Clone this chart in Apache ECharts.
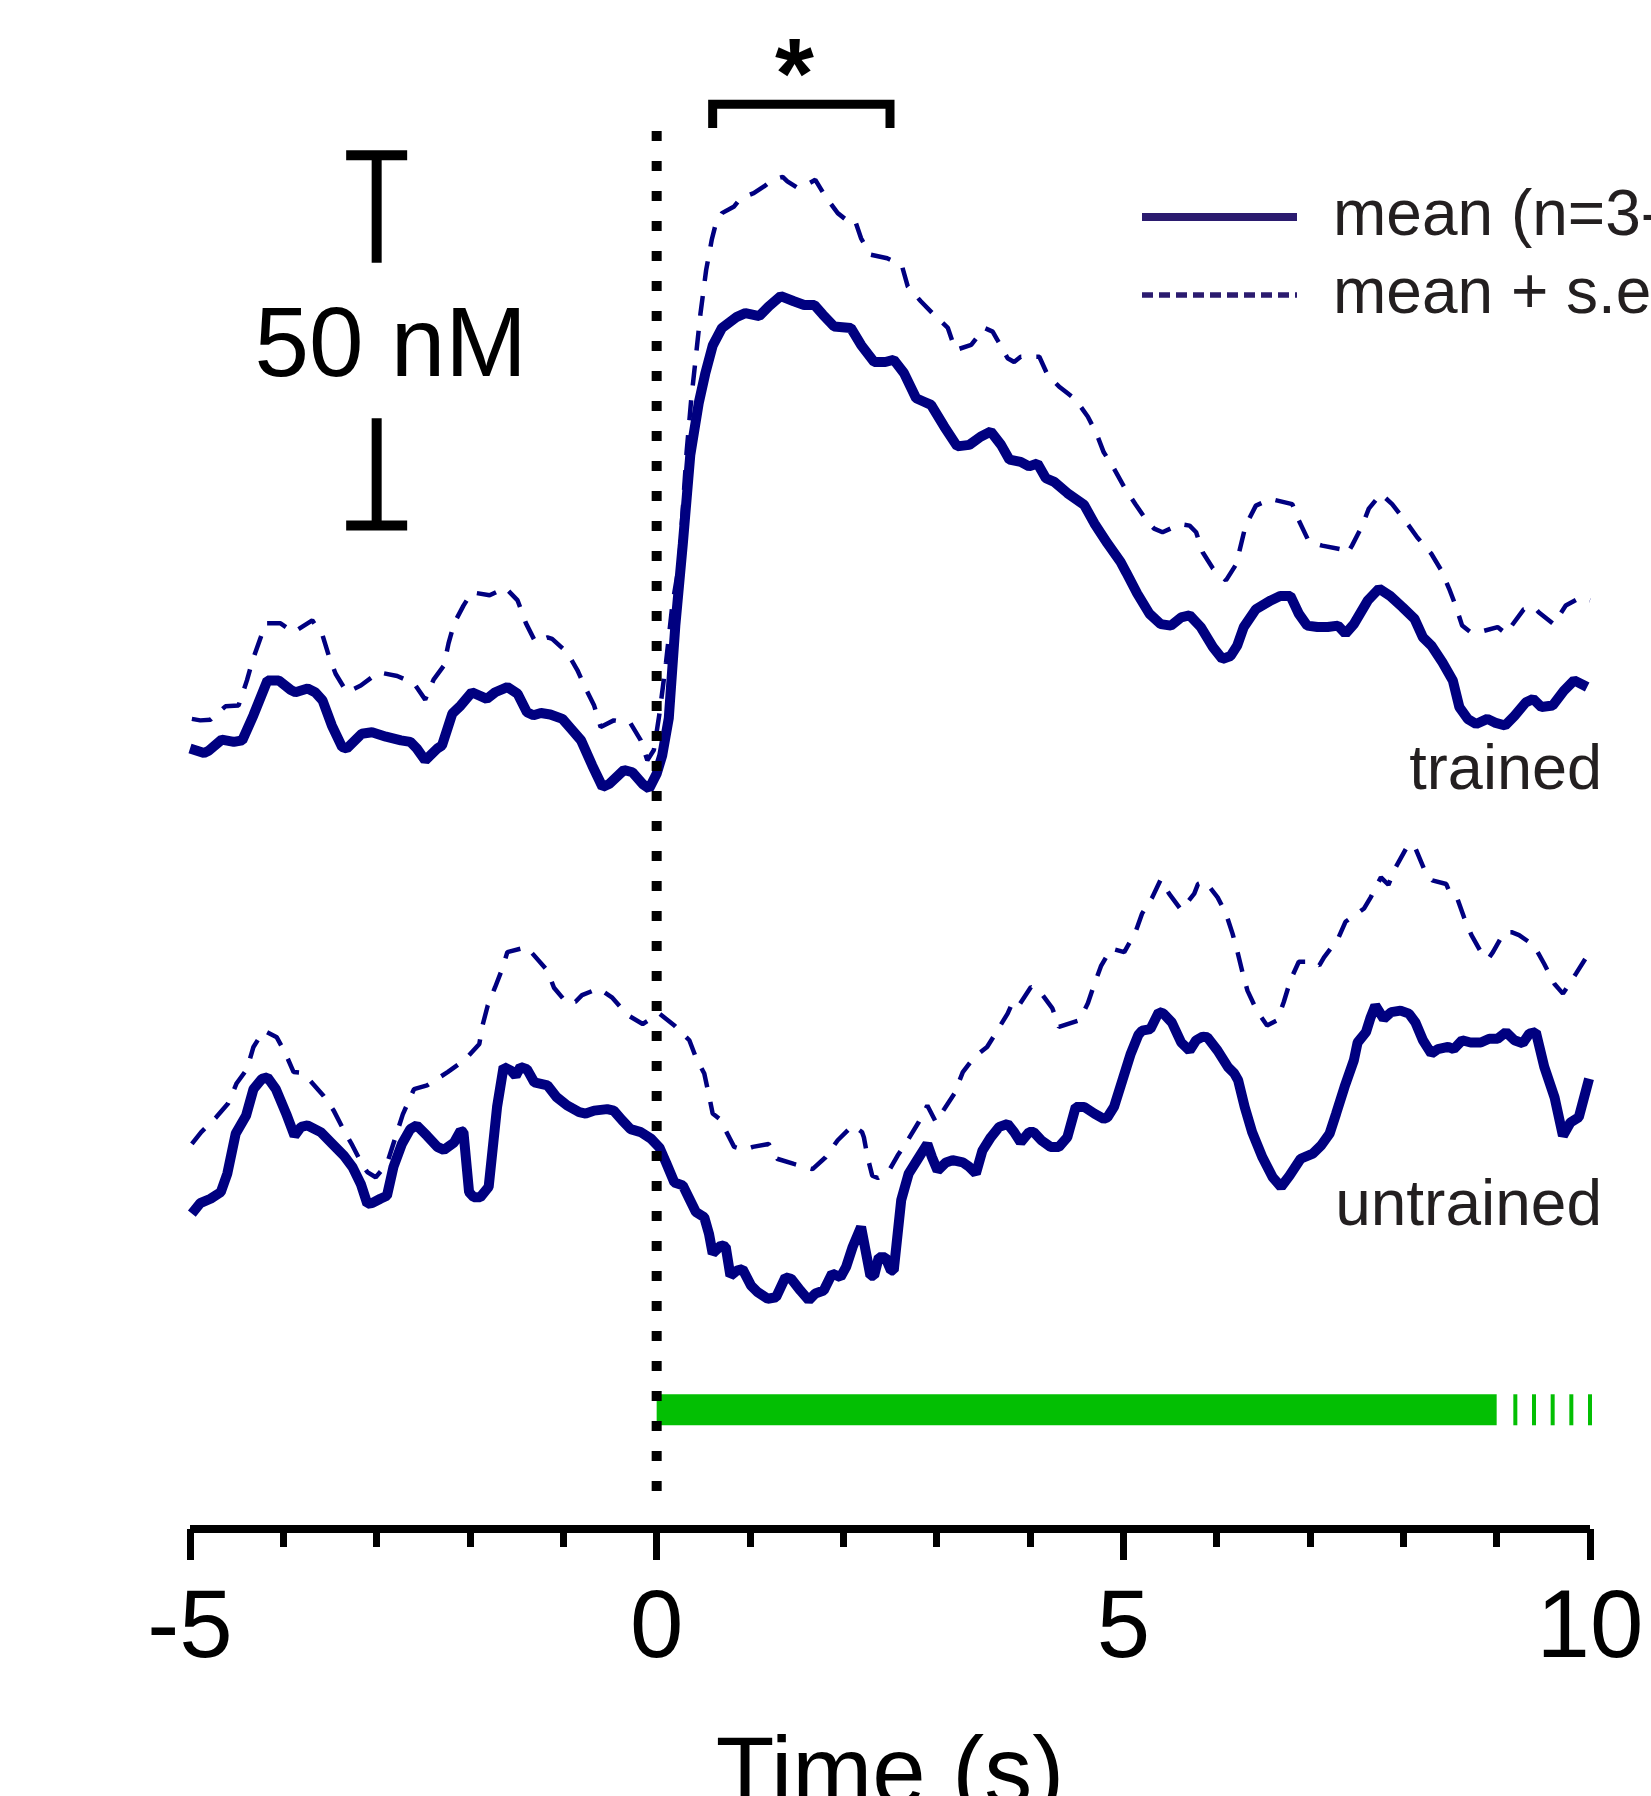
<!DOCTYPE html>
<html>
<head>
<meta charset="utf-8">
<title>Cue-evoked dopamine: trained vs untrained</title>
<script src="https://cdn.jsdelivr.net/npm/echarts@6/dist/echarts.min.js"></script>
<style>
  html, body { margin: 0; padding: 0; background: #ffffff; overflow: hidden; }
  #chart { width: 1651px; height: 1796px; }
</style>
</head>
<body>
<div id="chart"></div>
<script>
// Averaged [DA] traces, [time (s) from cue onset, nM on a stacked display scale]
const trainedMean = [
  [-5.00,105.4],[-4.85,104.8],[-4.80,105.1],[-4.66,106.6],[-4.53,106.3],[-4.44,106.5],[-4.32,109.9],[-4.17,114.6],
  [-4.05,114.6],[-3.92,113.3],[-3.87,113.0],[-3.74,113.5],[-3.66,113.0],[-3.58,111.9],[-3.48,108.5],[-3.37,105.6],
  [-3.32,105.4],[-3.16,107.4],[-3.05,107.6],[-2.90,107.0],[-2.74,106.5],[-2.64,106.3],[-2.57,105.4],[-2.48,103.8],
  [-2.35,105.4],[-2.30,105.8],[-2.19,110.1],[-2.10,111.2],[-1.98,113.0],[-1.82,112.1],[-1.73,113.0],[-1.60,113.7],
  [-1.49,112.8],[-1.39,110.3],[-1.32,109.9],[-1.24,110.2],[-1.14,110.0],[-1.01,109.4],[-0.92,108.1],[-0.81,106.5],
  [-0.69,103.1],[-0.58,100.2],[-0.51,100.6],[-0.35,102.5],[-0.26,102.2],[-0.15,100.6],[-0.08,100.0],[0.00,102.0],
  [0.06,104.5],[0.13,109.5],[0.20,122.0],[0.28,133.0],[0.36,145.0],[0.45,152.0],[0.52,156.0],[0.60,159.8],
  [0.70,162.2],[0.86,163.7],[0.95,164.2],[1.10,163.8],[1.20,165.1],[1.33,166.5],[1.47,165.8],[1.58,165.3],
  [1.69,165.3],[1.78,164.0],[1.90,162.4],[2.08,162.2],[2.19,159.9],[2.33,157.6],[2.45,157.6],[2.54,157.9],
  [2.65,156.1],[2.78,152.7],[2.87,152.2],[2.94,151.8],[3.08,148.9],[3.22,146.2],[3.35,146.4],[3.47,147.5],
  [3.58,148.2],[3.69,146.4],[3.78,144.4],[3.90,144.1],[3.99,143.5],[4.08,143.9],[4.17,141.9],[4.26,141.4],
  [4.40,139.9],[4.58,138.3],[4.69,135.8],[4.83,133.1],[4.97,130.6],[5.03,129.2],[5.15,126.3],[5.28,123.6],
  [5.40,122.2],[5.51,122.0],[5.62,123.1],[5.71,123.4],[5.83,121.8],[5.96,119.1],[6.06,117.5],[6.15,117.9],
  [6.22,119.3],[6.29,121.8],[6.42,124.2],[6.58,125.4],[6.68,126.0],[6.79,126.0],[6.88,123.6],[6.97,122.0],
  [7.08,121.8],[7.19,121.8],[7.30,122.0],[7.38,120.9],[7.47,122.2],[7.62,125.4],[7.74,127.0],[7.86,126.0],
  [7.99,124.5],[8.12,122.9],[8.21,120.4],[8.30,119.3],[8.42,117.0],[8.53,114.6],[8.60,111.0],[8.69,109.4],
  [8.78,108.7],[8.90,109.4],[8.98,108.9],[9.09,108.5],[9.19,109.8],[9.31,111.6],[9.39,112.1],[9.48,111.0],
  [9.60,111.2],[9.72,113.2],[9.83,114.6],[9.97,113.7]
];

const trainedMeanPlusSem = [
  [-4.98,109.4],[-4.89,109.2],[-4.78,109.3],[-4.62,111.1],[-4.48,111.2],[-4.39,114.6],[-4.33,117.3],[-4.24,120.5],
  [-4.19,122.3],[-4.03,122.3],[-3.89,121.1],[-3.69,122.7],[-3.58,120.7],[-3.51,117.8],[-3.44,115.5],[-3.32,113.0],
  [-3.17,113.9],[-2.98,115.7],[-2.78,115.2],[-2.60,114.2],[-2.48,112.0],[-2.39,114.7],[-2.28,116.6],[-2.23,119.6],
  [-2.17,122.3],[-2.07,124.7],[-1.98,126.5],[-1.79,126.1],[-1.62,127.1],[-1.49,125.4],[-1.40,122.3],[-1.30,119.8],
  [-1.17,120.4],[-1.12,120.2],[-0.96,118.4],[-0.85,116.0],[-0.76,113.5],[-0.67,111.2],[-0.60,108.3],[-0.46,109.2],
  [-0.28,108.8],[-0.17,106.5],[-0.10,103.8],[-0.03,105.2],[0.03,110.1],[0.10,117.0],[0.17,125.0],[0.24,130.2],
  [0.32,145.3],[0.37,152.5],[0.42,158.3],[0.47,164.2],[0.53,170.0],[0.59,174.1],[0.63,176.1],[0.70,177.7],
  [0.83,178.6],[0.90,179.7],[1.04,180.4],[1.15,181.3],[1.24,182.2],[1.35,182.6],[1.40,182.0],[1.51,181.1],
  [1.60,181.5],[1.70,182.2],[1.81,179.9],[1.94,177.7],[2.03,176.8],[2.12,176.9],[2.19,174.3],[2.29,172.1],
  [2.47,171.6],[2.54,171.2],[2.63,170.5],[2.69,167.8],[2.83,165.8],[2.97,164.0],[3.12,162.2],[3.20,159.2],
  [3.37,159.9],[3.51,162.2],[3.60,161.7],[3.65,160.6],[3.76,158.1],[3.83,157.6],[3.90,158.3],[4.10,158.3],
  [4.19,155.8],[4.31,154.3],[4.40,153.4],[4.49,152.5],[4.62,150.2],[4.71,148.0],[4.79,145.4],[4.90,143.2],
  [5.01,140.7],[5.13,138.4],[5.26,136.0],[5.33,135.1],[5.42,134.6],[5.61,135.7],[5.71,135.5],[5.78,134.6],
  [5.85,131.9],[5.96,129.7],[6.10,128.1],[6.21,130.3],[6.31,135.5],[6.42,138.2],[6.58,139.1],[6.81,138.4],
  [6.88,136.2],[6.99,133.3],[7.13,132.8],[7.33,132.3],[7.40,131.7],[7.45,132.8],[7.56,135.5],[7.63,137.8],
  [7.76,139.8],[7.88,138.4],[8.03,136.0],[8.15,133.9],[8.30,131.7],[8.40,129.6],[8.49,127.0],[8.56,124.7],
  [8.63,122.0],[8.72,121.1],[8.81,121.1],[9.01,121.8],[9.10,120.9],[9.15,121.8],[9.29,124.2],[9.40,124.5],
  [9.45,123.8],[9.61,122.2],[9.74,124.7],[9.90,125.8],[10.00,125.4]
];

const untrainedMean = [
  [-4.98,42.6],[-4.89,44.0],[-4.78,44.6],[-4.67,45.5],[-4.60,48.0],[-4.51,53.4],[-4.40,55.8],[-4.32,59.4],
  [-4.23,60.8],[-4.17,61.0],[-4.08,59.4],[-3.97,56.1],[-3.88,53.1],[-3.81,54.3],[-3.74,54.5],[-3.60,53.6],
  [-3.49,52.2],[-3.35,50.4],[-3.26,48.9],[-3.17,46.6],[-3.10,43.9],[-3.05,44.0],[-2.96,44.6],[-2.89,45.0],
  [-2.82,48.9],[-2.73,52.0],[-2.64,54.0],[-2.57,54.5],[-2.46,53.1],[-2.35,51.6],[-2.28,51.2],[-2.17,52.2],
  [-2.10,53.8],[-2.07,53.6],[-2.01,45.5],[-1.96,44.8],[-1.89,44.8],[-1.80,46.2],[-1.71,57.0],[-1.64,62.4],
  [-1.56,61.9],[-1.51,61.2],[-1.46,62.4],[-1.39,62.1],[-1.31,60.3],[-1.24,60.1],[-1.17,59.9],[-1.07,58.3],
  [-0.96,57.2],[-0.83,56.3],[-0.76,56.1],[-0.67,56.5],[-0.53,56.7],[-0.46,56.5],[-0.37,55.2],[-0.28,54.0],
  [-0.17,53.6],[-0.06,52.7],[0.03,51.5],[0.10,49.5],[0.19,46.8],[0.28,46.4],[0.35,44.6],[0.42,42.8],
  [0.51,42.1],[0.56,39.9],[0.60,37.2],[0.69,38.3],[0.74,38.1],[0.79,34.2],[0.86,34.9],[0.92,35.1],
  [1.01,32.9],[1.08,32.0],[1.19,31.1],[1.28,31.3],[1.38,34.0],[1.44,33.8],[1.54,32.2],[1.63,30.9],
  [1.70,31.8],[1.79,32.2],[1.88,34.5],[1.97,34.0],[2.03,35.4],[2.10,38.1],[2.19,40.8],[2.29,34.2],
  [2.33,34.2],[2.38,36.7],[2.45,36.7],[2.51,34.9],[2.54,34.9],[2.62,44.4],[2.70,48.0],[2.79,49.8],
  [2.90,52.0],[2.95,50.2],[3.01,48.4],[3.10,49.5],[3.17,49.8],[3.28,49.5],[3.35,48.9],[3.42,48.0],
  [3.49,51.1],[3.58,52.9],[3.67,54.3],[3.76,54.7],[3.83,53.6],[3.90,52.2],[3.99,53.6],[4.04,53.6],
  [4.12,52.5],[4.22,51.6],[4.31,51.6],[4.40,52.9],[4.49,57.0],[4.58,57.0],[4.69,56.1],[4.79,55.4],
  [4.83,55.6],[4.90,57.0],[4.99,60.6],[5.08,64.2],[5.16,66.7],[5.20,67.3],[5.29,67.5],[5.38,69.8],
  [5.43,69.6],[5.52,68.4],[5.62,65.7],[5.71,64.6],[5.78,66.0],[5.85,66.5],[5.90,66.4],[6.01,64.6],
  [6.12,62.4],[6.19,61.5],[6.23,60.6],[6.30,57.0],[6.38,53.6],[6.49,50.2],[6.60,47.5],[6.69,46.2],
  [6.78,47.7],[6.90,50.0],[7.03,50.7],[7.12,51.8],[7.21,53.4],[7.28,56.1],[7.37,59.7],[7.47,63.3],
  [7.51,65.7],[7.60,67.1],[7.65,69.1],[7.70,70.7],[7.79,68.9],[7.87,69.8],[7.97,70.0],[8.06,69.6],
  [8.13,68.4],[8.21,66.0],[8.30,64.2],[8.37,64.8],[8.48,65.1],[8.54,64.8],[8.63,66.0],[8.72,65.7],
  [8.83,65.7],[8.92,66.2],[9.01,66.2],[9.10,67.1],[9.19,66.0],[9.28,65.6],[9.35,66.9],[9.42,67.1],
  [9.51,62.4],[9.62,58.3],[9.71,53.1],[9.79,54.9],[9.88,55.6],[9.99,60.8]
];

const untrainedMeanPlusSem = [
  [-4.98,52.0],[-4.88,53.6],[-4.72,55.6],[-4.59,57.5],[-4.50,60.2],[-4.39,62.1],[-4.32,65.1],[-4.21,67.3],
  [-4.07,66.4],[-3.98,64.3],[-3.89,61.7],[-3.80,61.6],[-3.73,60.8],[-3.57,58.5],[-3.46,56.5],[-3.35,53.8],
  [-3.26,51.8],[-3.15,49.1],[-3.10,48.2],[-3.01,47.5],[-2.89,49.3],[-2.72,56.0],[-2.60,59.4],[-2.46,59.9],
  [-2.24,61.7],[-2.06,63.3],[-1.90,65.5],[-1.87,67.8],[-1.81,70.7],[-1.73,73.2],[-1.65,75.8],[-1.60,77.9],
  [-1.39,78.6],[-1.33,77.7],[-1.17,75.4],[-1.10,73.1],[-0.96,71.0],[-0.87,71.2],[-0.80,72.1],[-0.62,73.0],
  [-0.48,71.8],[-0.31,69.4],[-0.15,68.2],[0.03,69.6],[0.19,68.0],[0.35,66.0],[0.42,63.7],[0.51,61.5],
  [0.56,58.6],[0.60,56.1],[0.69,55.2],[0.72,54.3],[0.83,51.6],[0.94,51.2],[1.03,51.6],[1.20,52.0],
  [1.29,50.0],[1.47,49.3],[1.67,48.6],[1.81,50.2],[1.94,52.5],[2.10,54.5],[2.20,53.6],[2.22,52.9],
  [2.26,50.2],[2.31,47.7],[2.37,47.4],[2.49,48.4],[2.58,50.4],[2.70,52.7],[2.81,55.0],[2.90,57.2],
  [2.99,55.0],[3.08,56.7],[3.19,58.8],[3.28,61.7],[3.40,63.7],[3.54,65.1],[3.62,66.7],[3.76,69.6],
  [3.81,71.0],[3.87,70.5],[4.01,73.2],[4.10,72.7],[4.24,70.3],[4.31,67.8],[4.53,68.7],[4.62,71.0],
  [4.69,73.6],[4.76,76.0],[4.87,78.4],[5.01,77.9],[5.13,80.6],[5.20,83.1],[5.31,85.3],[5.40,87.7],
  [5.49,85.8],[5.62,83.6],[5.76,85.8],[5.80,87.1],[5.88,87.4],[6.01,85.3],[6.10,83.1],[6.17,80.4],
  [6.22,78.1],[6.28,75.0],[6.33,72.7],[6.43,70.0],[6.54,68.0],[6.65,68.7],[6.72,71.2],[6.79,74.1],
  [6.88,76.6],[7.04,76.6],[7.10,76.1],[7.15,77.2],[7.30,79.7],[7.38,82.0],[7.58,83.8],[7.65,85.3],
  [7.76,88.0],[7.84,87.0],[7.92,89.4],[8.03,91.9],[8.10,92.5],[8.13,91.9],[8.22,89.2],[8.31,87.6],
  [8.46,87.1],[8.51,85.6],[8.58,85.1],[8.65,82.6],[8.73,80.2],[8.85,77.5],[8.91,77.0],[8.96,77.9],
  [9.08,80.6],[9.16,80.6],[9.24,80.2],[9.40,78.8],[9.51,76.3],[9.62,73.6],[9.71,72.3],[9.85,75.0],
  [9.96,77.2]
];

// Time axis ticks (s)
const timeTicks = [-5, 0, 5, 10];

// Cue light: continuous from onset to 9 s, then pulsed
const cueOn = [0, 9];
const cuePulses = [9.2, 9.4, 9.6, 9.8, 10];

// Window where trained > untrained (p < 0.05)
const sigWindow = [0.6, 2.5];

// Calibration bar
const scaleBarNM = 50;

const FONT = '"Liberation Sans", Arial, Helvetica, sans-serif';
const NAVY = '#000080';
const INK = '#231f20';
const GREEN = '#03bf03';
const MEAN_NAME = 'mean (n=3-4)';
const SEM_NAME = 'mean + s.e.m.';

// display placement of the annotations (nM on the stacked scale)
const SCALE_BAR_X = -3;
const SCALE_BAR_BOTTOM = 135.5;
const CUE_Y = 16.1;
const ONSET_TOP = 188.8;
const ONSET_BOTTOM = 5.0;
const BRACKET_Y = 192.4;
const BRACKET_LEG = 3.2;

const chart = echarts.init(document.getElementById('chart'), null, { renderer: 'canvas' });

function traceSeries(name, data, dashed) {
  return {
    type: 'line',
    name: name,
    data: data,
    symbol: 'none',
    z: 4,
    itemStyle: { color: NAVY },
    lineStyle: dashed
      ? { color: NAVY, width: 4.5, type: [20, 15], cap: 'butt' }
      : { color: NAVY, width: 10, cap: 'butt', join: 'bevel' },
    emphasis: { disabled: true },
    silent: true
  };
}

const hiddenMarker = { color: 'rgba(0,0,0,0)', borderColor: 'rgba(0,0,0,0)', borderWidth: 0, opacity: 0 };

const option = {
  animation: false,
  backgroundColor: '#ffffff',
  textStyle: { fontFamily: FONT },
  grid: { left: 190, right: 61, top: 48, bottom: 267, containLabel: false, outerBoundsMode: 'none' },
  xAxis: {
    type: 'value',
    min: timeTicks[0],
    max: timeTicks[timeTicks.length - 1],
    interval: 5,
    name: 'Time (s)',
    nameLocation: 'middle',
    nameGap: 201,
    nameTextStyle: { fontSize: 96, color: '#000', fontFamily: FONT },
    axisLine: { onZero: false, lineStyle: { color: '#000', width: 8, cap: 'butt' } },
    axisTick: { length: 31, lineStyle: { color: '#000', width: 7 } },
    minorTick: { show: true, splitNumber: 5, length: 18, lineStyle: { color: '#000', width: 7 } },
    axisLabel: { fontSize: 96, color: '#000', margin: 54, fontFamily: FONT },
    splitLine: { show: false },
    minorSplitLine: { show: false }
  },
  yAxis: { type: 'value', min: 0, max: 200, show: false },
  legend: {
    orient: 'vertical',
    left: 1133,
    top: 180,
    itemWidth: 155,
    itemHeight: 20,
    itemGap: 14,
    selectedMode: false,
    data: [
      { name: MEAN_NAME, itemStyle: hiddenMarker, lineStyle: { color: '#2b1b6f', width: 8, type: 'solid' } },
      { name: SEM_NAME, itemStyle: hiddenMarker, lineStyle: { color: '#2b1b6f', width: 5.5, type: [11, 6] } }
    ],
    formatter: function (n) { return '{t|' + n + '}'; },
    textStyle: {
      rich: { t: { fontSize: 64, lineHeight: 64, color: INK, fontFamily: FONT, padding: [0, 0, 0, 31] } }
    }
  },
  graphic: [
    { type: 'text', x: 1602, y: 772, style: { text: 'trained', font: '63px ' + FONT, fill: INK, align: 'right', verticalAlign: 'middle' } },
    { type: 'text', x: 1602, y: 1207, style: { text: 'untrained', font: '64px ' + FONT, fill: INK, align: 'right', verticalAlign: 'middle' } }
  ],
  series: [
    traceSeries(MEAN_NAME, trainedMean, false),
    traceSeries(SEM_NAME, trainedMeanPlusSem, true),
    traceSeries(MEAN_NAME, untrainedMean, false),
    traceSeries(SEM_NAME, untrainedMeanPlusSem, true),
    {
      // cue light bar
      type: 'custom', name: 'cue', silent: true, z: 3,
      data: [[cueOn[0], CUE_Y]],
      renderItem: function (params, api) {
        const a = api.coord([cueOn[0], CUE_Y]);
        const b = api.coord([cueOn[1], CUE_Y]);
        const h = 31;
        const kids = [{ type: 'rect', shape: { x: a[0], y: a[1] - h / 2, width: b[0] - a[0], height: h }, style: { fill: GREEN } }];
        cuePulses.forEach(function (t) {
          const c = api.coord([t, CUE_Y]);
          kids.push({ type: 'rect', shape: { x: c[0] - 2, y: c[1] - h / 2, width: 4, height: h }, style: { fill: GREEN } });
        });
        return { type: 'group', children: kids };
      }
    },
    {
      // cue onset marker
      type: 'custom', name: 'onset', silent: true, z: 6,
      data: [[cueOn[0], ONSET_TOP]],
      renderItem: function (params, api) {
        const p1 = api.coord([cueOn[0], ONSET_TOP]);
        const p2 = api.coord([cueOn[0], ONSET_BOTTOM]);
        return {
          type: 'line',
          shape: { x1: p1[0], y1: p1[1], x2: p2[0], y2: p2[1] },
          style: { stroke: '#000', lineWidth: 10, lineDash: [10, 20], lineCap: 'butt' }
        };
      }
    },
    {
      // significance bracket with asterisk
      type: 'custom', name: 'significance', silent: true, z: 6,
      data: [[sigWindow[0], BRACKET_Y]],
      renderItem: function (params, api) {
        const pts = [
          [sigWindow[0], BRACKET_Y - BRACKET_LEG],
          [sigWindow[0], BRACKET_Y],
          [sigWindow[1], BRACKET_Y],
          [sigWindow[1], BRACKET_Y - BRACKET_LEG]
        ].map(function (d) { return api.coord(d); });
        const mid = api.coord([(sigWindow[0] + sigWindow[1]) / 2, BRACKET_Y]);
        return {
          type: 'group',
          children: [
            { type: 'polyline', shape: { points: pts }, style: { stroke: '#000', fill: null, lineWidth: 9, lineJoin: 'miter', lineCap: 'butt' } },
            { type: 'text', style: { text: '*', x: mid[0] - 7, y: mid[1] - 24, font: 'bold 100px ' + FONT, fill: '#000', align: 'center', verticalAlign: 'middle' } }
          ]
        };
      }
    },
    {
      // 50 nM calibration bar
      type: 'custom', name: 'scale', silent: true, z: 6,
      data: [[SCALE_BAR_X, SCALE_BAR_BOTTOM]],
      renderItem: function (params, api) {
        const top = api.coord([SCALE_BAR_X, SCALE_BAR_BOTTOM + scaleBarNM]);
        const bot = api.coord([SCALE_BAR_X, SCALE_BAR_BOTTOM]);
        const len = bot[1] - top[1];
        const piece = len * 0.29;
        const capW = 61;
        const st = { stroke: '#000', lineWidth: 10, lineCap: 'butt' };
        return {
          type: 'group',
          children: [
            { type: 'line', shape: { x1: top[0] - capW / 2, y1: top[1], x2: top[0] + capW / 2, y2: top[1] }, style: st },
            { type: 'line', shape: { x1: top[0], y1: top[1], x2: top[0], y2: top[1] + piece }, style: st },
            { type: 'line', shape: { x1: bot[0] - capW / 2, y1: bot[1], x2: bot[0] + capW / 2, y2: bot[1] }, style: st },
            { type: 'line', shape: { x1: bot[0], y1: bot[1] - piece, x2: bot[0], y2: bot[1] }, style: st },
            { type: 'text', style: { text: scaleBarNM + ' nM', x: top[0] + 14, y: (top[1] + bot[1]) / 2 + 8, font: '98px ' + FONT, fill: '#000', align: 'center', verticalAlign: 'middle' } }
          ]
        };
      }
    }
  ]
};

chart.setOption(option);
</script>
</body>
</html>
